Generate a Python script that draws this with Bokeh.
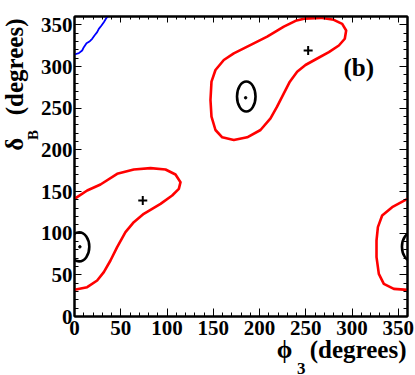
import numpy as np
from bokeh.plotting import figure
from bokeh.models import LinearAxis, FixedTicker, Range1d, Label, Title
from bokeh.embed import file_html
from bokeh.resources import INLINE

# ---- data ----
x_ticks = [0, 50, 100, 150, 200, 250, 300, 350]
y_ticks = [0, 50, 100, 150, 200, 250, 300, 350]
minor_ticks = list(range(0, 361, 10))

# wrap-around red contour (phi3 is periodic in 360)
red_a_phi = [0, 13.7, 28.1, 46.1, 64.1, 82.2, 98.4, 109.2, 114.6, 112.8, 105.6, 93, 74.9, 64.1,
             55.1, 46.1, 38.9, 31.7, 24.5, 13.7, 0, -14.8, -25.6, -31, -33.5, -33.5, -32, -27.4,
             -16.6, 0]
red_a_delta = [141.2, 151.2, 158.4, 171.2, 176.4, 178, 176.4, 170.4, 161.2, 153.2, 145.2, 135.2,
               123.2, 113.2, 101.2, 83.2, 67.2, 53.2, 43.2, 35.2, 32, 33.2, 39.2, 51.2, 71.2, 91.2,
               107.2, 121.2, 131.2, 141.2]

# upper red contour
red_b_phi = [248, 266, 280.3, 289.4, 293.7, 292.2, 285.8, 275, 262.4, 249.7, 240.7, 232.8, 226.3,
             219, 211.9, 201.1, 186.7, 172.2, 159.7, 152.4, 148.1, 147, 148.1, 152.4, 161.4, 172.2,
             193.8, 208.3, 226.3, 239, 248]
red_b_delta = [357.4, 358.4, 356, 351.2, 343.2, 333.3, 325.2, 317.2, 309.6, 301.8, 293.8, 281.8,
               267.8, 251.8, 237.8, 223.8, 215, 211.8, 215, 223.8, 239.8, 259.8, 281.8, 295.8, 307.8,
               315.8, 327.8, 335.8, 347.8, 354.8, 357.4]

# black ellipses (center phi, center delta, width, height)
ell_phi = [185.7, 5]
ell_delta = [264, 83.6]
ell_w = [20, 22]
ell_h = [36, 35]

# central dots
dot_phi = [185, 5.8]
dot_delta = [262.5, 83.6]

# crosses
cross_phi = [73.8, 252.6]
cross_delta = [139.2, 319.2]

# blue curve
blue_phi = [0, 4.7, 8.3, 10.1, 13, 16.6, 19.1, 21.6, 24.5, 26.3, 29.2, 31.7, 34.6, 36]
blue_delta = [314.4, 316, 319.2, 323.2, 328, 330.4, 333.2, 337.2, 341.2, 345.2, 349.2, 353.2, 358.4, 360]

FONT = "Liberation Serif"

p = figure(width=415, height=375, output_backend="svg", toolbar_location=None,
           x_range=Range1d(0, 360), y_range=Range1d(0, 360),
           min_border_left=74, min_border_right=8, min_border_top=16, min_border_bottom=59,
           x_axis_type=None, y_axis_type=None)
p.grid.visible = False
p.outline_line_color = "black"
p.outline_line_width = 2
p.background_fill_color = "white"
p.border_fill_color = "white"


def style_axis(ax, tin, tmin, labels=True, standoff=5):
    ax.ticker = FixedTicker(ticks=x_ticks, minor_ticks=minor_ticks)
    ax.axis_line_color = "black"
    ax.axis_line_width = 2
    ax.major_tick_in = tin
    ax.major_tick_out = 0
    ax.minor_tick_in = tmin
    ax.minor_tick_out = 0
    ax.major_tick_line_width = 1
    ax.minor_tick_line_width = 1
    ax.major_tick_line_color = "black"
    ax.minor_tick_line_color = "black"
    if labels:
        ax.major_label_text_font = FONT
        ax.major_label_text_font_style = "bold"
        ax.major_label_text_font_size = "21px"
        ax.major_label_text_color = "black"
        ax.major_label_standoff = standoff
    else:
        ax.major_label_overrides = {t: "" for t in x_ticks}
        ax.major_label_standoff = 0
        ax.major_label_text_font_size = "1px"


xb = LinearAxis()
style_axis(xb, 8, 4, True, 4)
p.add_layout(xb, "below")

# left axis; its axis label carries the subscript "B"
yl = LinearAxis(axis_label="\u2003" * 3 + "\u2002\u2002\u2009B")
style_axis(yl, 7, 4, True, 2)
yl.axis_label_text_font = FONT
yl.axis_label_text_font_style = "bold"
yl.axis_label_text_font_size = "15px"
yl.axis_label_text_color = "black"
yl.axis_label_standoff = -3
p.add_layout(yl, "left")

xt = LinearAxis()
style_axis(xt, 6, 3, False)
p.add_layout(xt, "above")
yr = LinearAxis()
style_axis(yr, 8, 4, False)
p.add_layout(yr, "right")

# x title: subscript "3" (pushed below its panel) and the main text
p.add_layout(Title(text="3", align="right", vertical_align="bottom",
                   offset=102, standoff=-72, text_font=FONT, text_font_style="bold",
                   text_font_size="17px", text_color="black"), "below")
p.add_layout(Title(text="ϕ\u2002\u2009(degrees)", align="right", vertical_align="top",
                   offset=1, standoff=-4, text_font=FONT, text_font_style="bold",
                   text_font_size="25px", text_color="black"), "below")
# y title
p.add_layout(Title(text="δ\u2002\u2009\u2009(degrees)", align="right", vertical_align="bottom",
                   offset=2, standoff=-12, text_font=FONT, text_font_style="bold",
                   text_font_size="25px", text_color="black"), "left")

# red contours
ra_phi = np.array(red_a_phi)
ra_delta = np.array(red_a_delta)
for shift in (0, 360):
    p.line(ra_phi + shift, ra_delta, line_color="#ff0000", line_width=2.6, line_join="round")
p.line(red_b_phi, red_b_delta, line_color="#ff0000", line_width=2.6, line_join="round")

# black ellipses (with periodic copy)
for shift in (0, 360):
    p.ellipse(x=np.array(ell_phi) + shift, y=ell_delta, width=ell_w, height=ell_h,
              fill_color=None, line_color="black", line_width=2.6)

p.scatter(dot_phi, dot_delta, size=2.5, marker="circle", color="black")
p.scatter(cross_phi, cross_delta, size=9, marker="cross", line_color="black", line_width=2)

p.line(blue_phi, blue_delta, line_color="#0000ff", line_width=1.8)

# annotation (b)
p.add_layout(Label(x=290.8, y=298.8, text="(b)", text_font=FONT, text_font_style="bold",
                   text_font_size="25px", text_color="black", text_baseline="alphabetic"))

open("out.html", "w").write(file_html(p, INLINE))
